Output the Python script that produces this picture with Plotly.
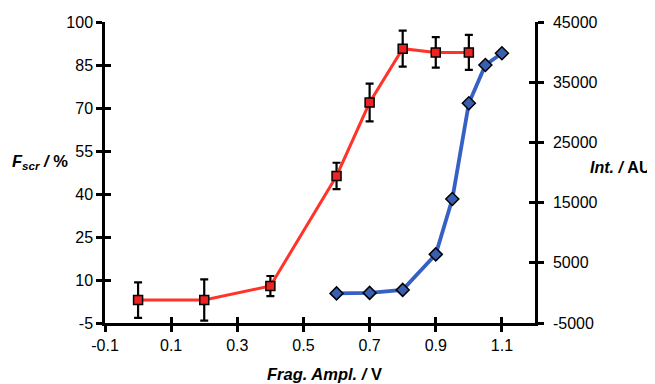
import plotly.graph_objects as go

# Red series: F_scr (%) with error bars (left axis)
frag_x = [0.0, 0.2, 0.4, 0.6, 0.7, 0.8, 0.9, 1.0]
fscr = [3.0, 3.0, 7.9, 46.3, 71.9, 90.7, 89.4, 89.4]
fscr_err = [6.2, 7.2, 3.5, 4.6, 6.6, 6.3, 5.3, 6.1]

# Blue series: Intensity (AU) (right axis)
int_x = [0.6, 0.7, 0.8, 0.9, 0.95, 1.0, 1.05, 1.1]
intensity = [-80, 0, 500, 6400, 15600, 31500, 37850, 39800]

x_ticks = [-0.1, 0.1, 0.3, 0.5, 0.7, 0.9, 1.1]
x_labels = ["-0.1", "0.1", "0.3", "0.5", "0.7", "0.9", "1.1"]
y_ticks = [-5, 10, 25, 40, 55, 70, 85, 100]
y_labels = ["-5", "10", "25", "40", "55", "70", "85", "100"]
y2_ticks = [-5000, 5000, 15000, 25000, 35000, 45000]
y2_labels = ["-5000", "5000", "15000", "25000", "35000", "45000"]

FONT = "Arial, Liberation Sans, sans-serif"

fig = go.Figure()

fig.add_trace(go.Scatter(
    x=frag_x, y=fscr, mode="lines+markers",
    line=dict(color="#ff3328", width=3),
    marker=dict(symbol="square", size=9, color="#ee2222",
                line=dict(color="black", width=1.5)),
    error_y=dict(type="data", array=fscr_err, visible=True,
                 color="black", thickness=2.2, width=4),
    xaxis="x", yaxis="y", showlegend=False,
))

fig.add_trace(go.Scatter(
    x=int_x, y=intensity, mode="lines+markers",
    line=dict(color="#3560c4", width=3.8),
    marker=dict(symbol="diamond", size=10, color="#3a5fb0",
                line=dict(color="black", width=1.5)),
    xaxis="x", yaxis="y2", showlegend=False,
))

# dummy traces for inside-tick overlay axes
fig.add_trace(go.Scatter(x=[None], y=[None], xaxis="x3", yaxis="y3",
                         showlegend=False, hoverinfo="skip"))
fig.add_trace(go.Scatter(x=[None], y=[None], xaxis="x3", yaxis="y4",
                         showlegend=False, hoverinfo="skip"))

axis_common = dict(showgrid=False, zeroline=False, showline=True,
                   linecolor="black", linewidth=2.5, tickcolor="black",
                   tickwidth=2.5, ticklen=6, automargin=False)

fig.update_layout(
    width=647, height=376,
    margin=dict(l=97, r=120, t=14, b=61),
    paper_bgcolor="white", plot_bgcolor="white",
    font=dict(family=FONT, size=16, color="black"),
    xaxis=dict(range=[-0.1, 1.2], tickvals=x_ticks, ticktext=x_labels,
               ticks="outside", **axis_common),
    yaxis=dict(range=[-5, 100], tickvals=y_ticks, ticktext=y_labels,
               ticks="outside", **axis_common),
    yaxis2=dict(range=[-5000, 45000], tickvals=y2_ticks, ticktext=y2_labels,
                ticks="outside", overlaying="y", side="right", anchor="x",
                ticklabelstandoff=6, **axis_common),
    xaxis3=dict(range=[-0.1, 1.2], tickvals=x_ticks, ticks="inside",
                overlaying="x", showticklabels=False, **axis_common),
    yaxis3=dict(range=[-5, 100], tickvals=y_ticks, ticks="inside",
                overlaying="y", showticklabels=False, anchor="x3",
                **axis_common),
    yaxis4=dict(range=[-5000, 45000], tickvals=y2_ticks, ticks="inside",
                overlaying="y", side="right", anchor="x3",
                showticklabels=False, **axis_common),
    annotations=[
        dict(text="<b><i>F</i></b><sub><b><i>scr</i></b></sub><b><i> / </i>%</b>",
             x=-0.152, y=0.535, xref="paper", yref="paper",
             xanchor="center", yanchor="middle", showarrow=False,
             font=dict(size=16.5, family=FONT)),
        dict(text="<b><i>Int. / </i>AU</b>",
             x=1.198, y=0.518, xref="paper", yref="paper",
             xanchor="center", yanchor="middle", showarrow=False,
             font=dict(size=16, family=FONT)),
        dict(text="<b><i>Frag. Ampl. / </i>V</b>",
             x=0.51, y=-0.169, xref="paper", yref="paper",
             xanchor="center", yanchor="middle", showarrow=False,
             font=dict(size=16.5, family=FONT)),
    ],
)

fig.write_html("out.html")
